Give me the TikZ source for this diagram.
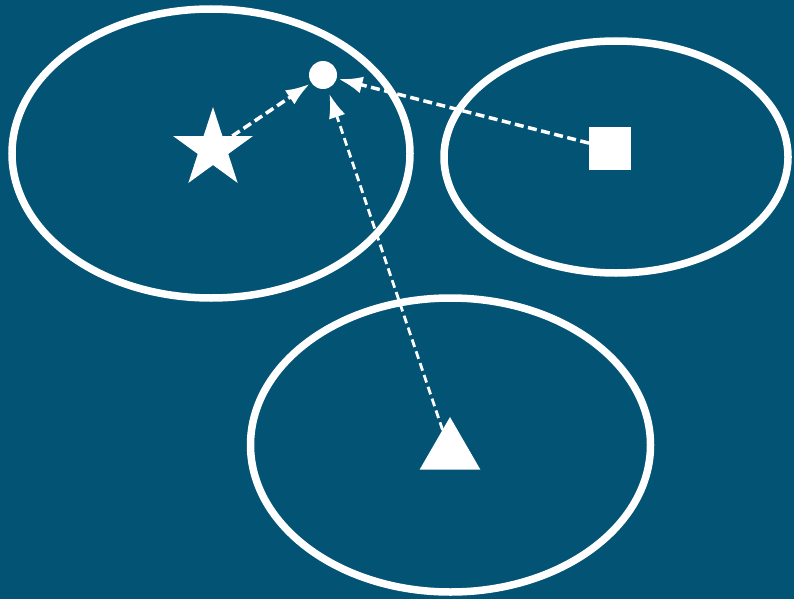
\documentclass[tikz,border=0pt]{standalone}
\usetikzlibrary{shapes.geometric,arrows.meta}
\definecolor{bg}{RGB}{3,83,117}
\begin{document}
\begin{tikzpicture}[x=1pt,y=-1pt,
  region/.style={draw=white,line width=7.5pt},
  shapefill/.style={fill=white,draw=none,inner sep=0pt,outer sep=0pt},
  link/.style={draw=white,dash pattern=on 9pt off 4.5pt,line width=3.5pt,shorten >=2pt,
    -{Latex[length=24pt,width=17pt]}}
]
\fill[bg] (0,0) rectangle (794,599);
\useasboundingbox (0,0) rectangle (794,599);
\draw[region] (211,153.5) ellipse [x radius=199, y radius=144.5];
\draw[region] (616,157) ellipse [x radius=172, y radius=116];
\draw[region] (450.5,445) ellipse [x radius=200, y radius=147];
\node[shapefill,star,star points=5,star point ratio=2.618,minimum size=84pt] (star) at (213,149) {};
\node[shapefill,circle,minimum size=28pt] (dot) at (323,75) {};
\node[shapefill,rectangle,minimum width=42pt,minimum height=43pt] (sq) at (610,148.5) {};
\node[shapefill,regular polygon,regular polygon sides=3,minimum size=70pt] (tri) at (450,452) {};
\draw[link] (star) -- (dot);
\draw[link] (sq) -- (dot);
\draw[link,line width=2.8pt,dash pattern=on 8pt off 4.5pt,shorten >=6pt] (tri) -- (dot);
\end{tikzpicture}
\end{document}
